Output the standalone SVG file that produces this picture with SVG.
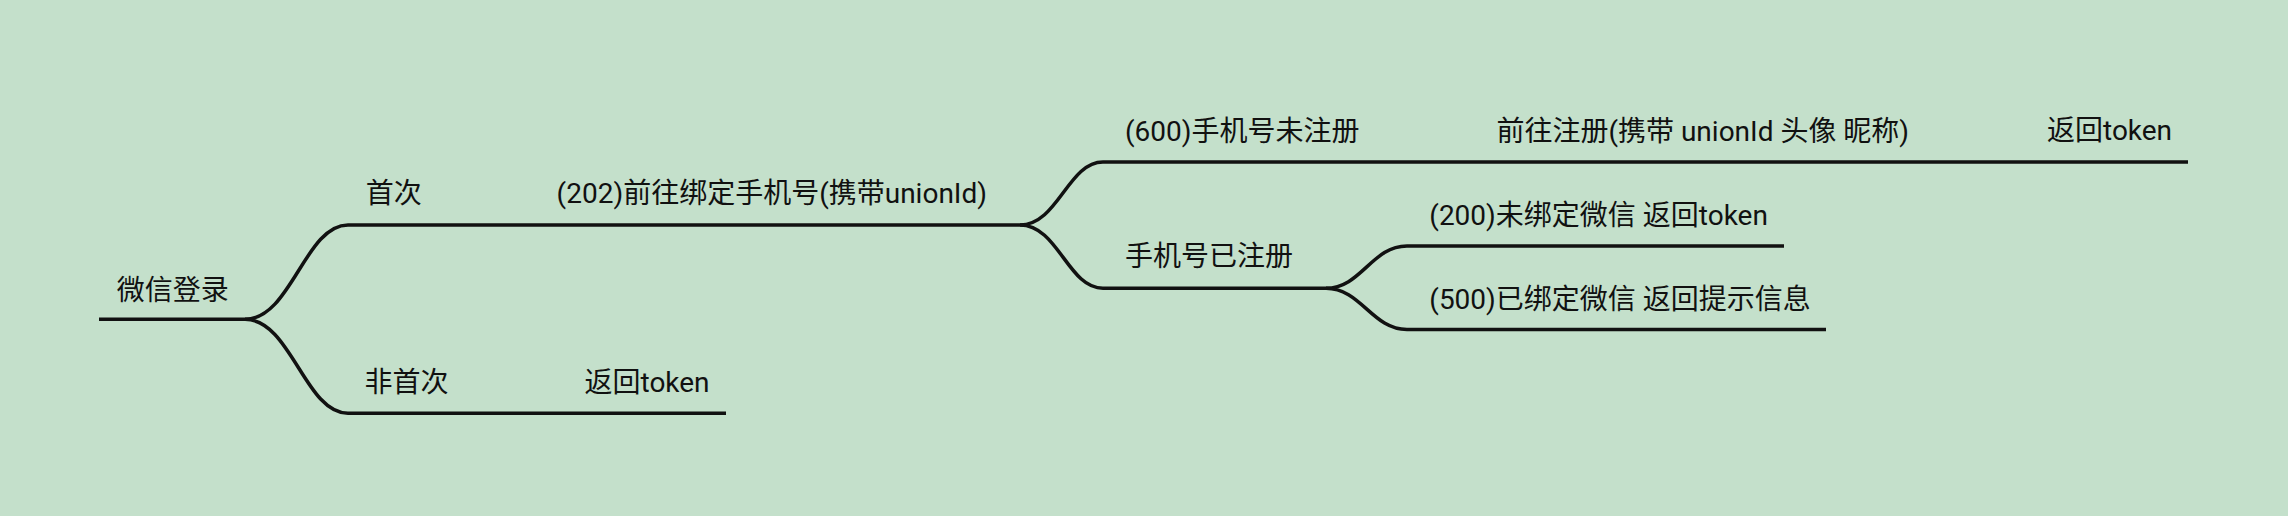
<svg xmlns="http://www.w3.org/2000/svg" width="2288" height="516" viewBox="0 0 2288 516">
<style>
.bg{fill:#c4e0cb}
.ln{fill:none;stroke:#111;stroke-width:3.5;stroke-linecap:butt}
.t{font-family:Roboto,"Noto Sans CJK SC",sans-serif;font-size:28px;fill:#111}
</style>
<rect class="bg" x="0" y="0" width="2288" height="516"/>
<g id="connectors">
<path class="ln" d="M99 319.3 H245"/>
<path class="ln" d="M245 319.3 C291 319.3 305 225 348 225 H1020"/>
<path class="ln" d="M245 319.3 C291 319.3 305 413.3 348 413.3 H726"/>
<path class="ln" d="M1020 225 C1058 225 1068 162 1103 162 H2188"/>
<path class="ln" d="M1020 225 C1058 225 1068 288.3 1103 288.3 H1326"/>
<path class="ln" d="M1326 288.3 C1361 288.3 1372 246 1407 246 H1784"/>
<path class="ln" d="M1326 288.3 C1361 288.3 1372 329.5 1407 329.5 H1826"/>
</g>
<g id="n-root"><text class="t" x="116.7" y="299.5">微信登录</text></g>
<g id="n-first"><text class="t" x="365.7" y="203">首次</text></g>
<g id="n-bind"><text class="t" x="556.6" y="203">(202)前往绑定手机号(携带unionId)</text></g>
<g id="n-notfirst"><text class="t" x="364.4" y="392">非首次</text></g>
<g id="n-token1"><text class="t" x="584.5" y="392">返回token</text></g>
<g id="n-600"><text class="t" x="1125" y="140.5">(600)手机号未注册</text></g>
<g id="n-reg"><text class="t" x="1496.4" y="140.5">前往注册(携带 unionId 头像 昵称)</text></g>
<g id="n-token2"><text class="t" x="2047" y="140">返回token</text></g>
<g id="n-registered"><text class="t" x="1125" y="266">手机号已注册</text></g>
<g id="n-200"><text class="t" x="1429.3" y="225">(200)未绑定微信 返回token</text></g>
<g id="n-500"><text class="t" x="1429.3" y="308.5">(500)已绑定微信 返回提示信息</text></g>
</svg>
